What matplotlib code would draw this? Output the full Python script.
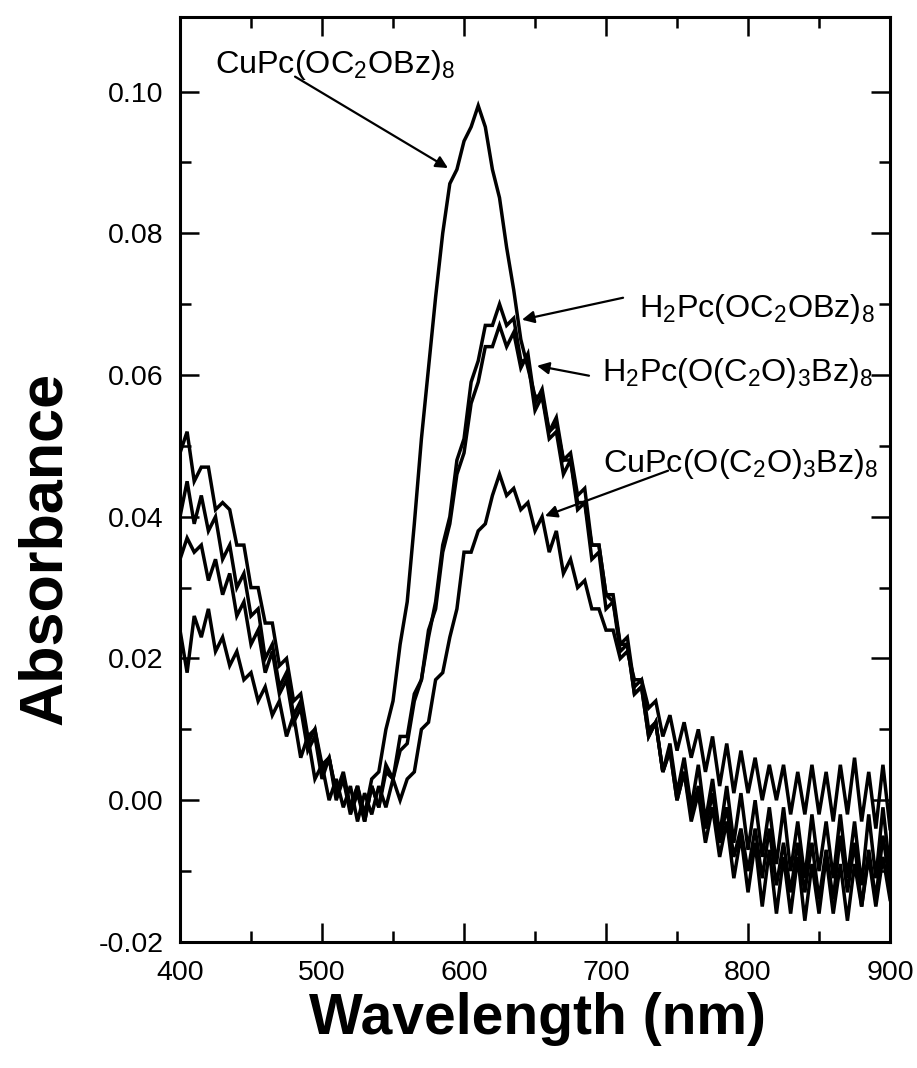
import matplotlib
matplotlib.use("Agg")
import matplotlib.pyplot as plt
from matplotlib import font_manager

# ---------------- data ----------------
wavelength = list(range(400, 901, 5))

cupc_oc2obz = [
    0.049, 0.052, 0.045, 0.047, 0.047, 0.041, 0.042, 0.041, 0.036, 0.036,
    0.030, 0.030, 0.025, 0.025, 0.019, 0.020, 0.014, 0.015, 0.009, 0.010,
    0.005, 0.006, 0.001, 0.003, -0.001, 0.002, -0.002, 0.003, 0.004, 0.010,
    0.014, 0.022, 0.028, 0.039, 0.051, 0.061, 0.071, 0.080, 0.087, 0.089,
    0.093, 0.095, 0.098, 0.095, 0.089, 0.085, 0.078, 0.072, 0.065, 0.061,
    0.057, 0.057, 0.052, 0.053, 0.048, 0.048, 0.042, 0.042, 0.036, 0.036,
    0.029, 0.028, 0.022, 0.022, 0.015, 0.016, 0.009, 0.011, 0.004, 0.007,
    0.000, 0.004, -0.002, 0.002, -0.004, 0.001, -0.006, -0.001, -0.008, -0.004,
    -0.010, -0.004, -0.011, -0.004, -0.012, -0.006, -0.013, -0.006, -0.013, -0.006,
    -0.014, -0.007, -0.014, -0.005, -0.013, -0.006, -0.015, -0.007, -0.014, -0.005,
    -0.012,
]

h2pc_oc2obz = [
    0.040, 0.045, 0.039, 0.043, 0.038, 0.040, 0.034, 0.036, 0.030, 0.032,
    0.026, 0.027, 0.020, 0.022, 0.016, 0.018, 0.012, 0.014, 0.008, 0.010,
    0.004, 0.006, 0.001, 0.004, -0.001, 0.002, -0.003, 0.002, -0.001, 0.004,
    0.003, 0.007, 0.008, 0.014, 0.017, 0.023, 0.028, 0.036, 0.040, 0.048,
    0.051, 0.059, 0.062, 0.067, 0.067, 0.070, 0.067, 0.068, 0.062, 0.062,
    0.055, 0.057, 0.051, 0.052, 0.046, 0.048, 0.041, 0.042, 0.034, 0.035,
    0.027, 0.028, 0.021, 0.022, 0.015, 0.016, 0.009, 0.011, 0.004, 0.008,
    0.001, 0.006, -0.001, 0.005, -0.003, 0.003, -0.005, 0.002, -0.006, 0.001,
    -0.007, 0.000, -0.008, -0.001, -0.009, -0.001, -0.010, -0.003, -0.011, -0.002,
    -0.010, -0.003, -0.011, -0.002, -0.011, -0.003, -0.012, -0.002, -0.011, -0.001,
    -0.010,
]

h2pc_oc2o3bz = [
    0.034, 0.037, 0.035, 0.036, 0.031, 0.034, 0.029, 0.032, 0.026, 0.028,
    0.022, 0.024, 0.018, 0.021, 0.015, 0.017, 0.011, 0.013, 0.007, 0.009,
    0.003, 0.006, 0.000, 0.003, -0.002, 0.001, -0.003, 0.002, -0.001, 0.005,
    0.003, 0.009, 0.009, 0.015, 0.017, 0.024, 0.027, 0.035, 0.039, 0.046,
    0.049, 0.056, 0.059, 0.064, 0.064, 0.067, 0.064, 0.066, 0.061, 0.063,
    0.056, 0.058, 0.052, 0.054, 0.048, 0.049, 0.043, 0.044, 0.036, 0.036,
    0.029, 0.029, 0.022, 0.023, 0.016, 0.017, 0.010, 0.011, 0.004, 0.007,
    0.000, 0.004, -0.003, 0.001, -0.006, -0.001, -0.008, -0.003, -0.011, -0.005,
    -0.013, -0.006, -0.015, -0.007, -0.016, -0.008, -0.016, -0.008, -0.017, -0.009,
    -0.016, -0.008, -0.016, -0.009, -0.017, -0.009, -0.015, -0.008, -0.015, -0.008,
    -0.014,
]

cupc_oc2o3bz = [
    0.024, 0.018, 0.026, 0.023, 0.027, 0.021, 0.023, 0.019, 0.021, 0.017,
    0.018, 0.014, 0.016, 0.012, 0.014, 0.009, 0.012, 0.006, 0.009, 0.003,
    0.005, 0.000, 0.003, -0.001, 0.002, -0.003, 0.001, -0.002, 0.002, -0.001,
    0.003, 0.000, 0.003, 0.004, 0.010, 0.011, 0.017, 0.018, 0.023, 0.027,
    0.035, 0.035, 0.038, 0.039, 0.043, 0.046, 0.043, 0.044, 0.041, 0.042,
    0.038, 0.040, 0.035, 0.038, 0.032, 0.034, 0.030, 0.031, 0.027, 0.027,
    0.024, 0.024, 0.020, 0.021, 0.017, 0.017, 0.013, 0.014, 0.009, 0.012,
    0.007, 0.011, 0.006, 0.010, 0.004, 0.009, 0.002, 0.008, 0.001, 0.007,
    0.001, 0.006, 0.000, 0.005, 0.000, 0.005, -0.002, 0.004, -0.002, 0.005,
    -0.002, 0.004, -0.003, 0.005, -0.002, 0.006, -0.003, 0.004, -0.004, 0.005,
    -0.004,
]

series = [cupc_oc2obz, h2pc_oc2obz, h2pc_oc2o3bz, cupc_oc2o3bz]

x_ticks = [400, 500, 600, 700, 800, 900]
y_ticks = [-0.02, 0.00, 0.02, 0.04, 0.06, 0.08, 0.10]
y_tick_labels = ["-0.02", "0.00", "0.02", "0.04", "0.06", "0.08", "0.10"]

labels = [
    r"CuPc(OC$_2$OBz)$_8$",
    r"H$_2$Pc(OC$_2$OBz)$_8$",
    r"H$_2$Pc(O(C$_2$O)$_3$Bz)$_8$",
    r"CuPc(O(C$_2$O)$_3$Bz)$_8$",
]
# (text position, arrow tail, arrow head) in data coordinates
label_pos = [(424.6, 0.1026), (723.5, 0.0682), (697.0, 0.0592), (697.7, 0.0463)]
arrow_tail = [(481.0, 0.1021), (712.0, 0.0709), (688.0, 0.0599), (743.7, 0.0465)]
arrow_head = [(588.7, 0.0892), (640.8, 0.0678), (651.4, 0.0613), (657.0, 0.0401)]

# ---------------- style ----------------
avail = {f.name for f in font_manager.fontManager.ttflist}
base_font = "Liberation Sans" if "Liberation Sans" in avail else "DejaVu Sans"

plt.rcParams["font.family"] = [base_font, "DejaVu Sans"]
plt.rcParams["mathtext.fontset"] = "custom"
plt.rcParams["mathtext.rm"] = base_font
plt.rcParams["mathtext.it"] = base_font
plt.rcParams["mathtext.bf"] = base_font + ":bold"

fig = plt.figure(figsize=(9.17, 10.68), dpi=100)
ax = fig.add_axes([0.1963, 0.118, 0.7743, 0.866])

for s in series:
    ax.plot(wavelength, s, color="black", lw=2.5, solid_joinstyle="miter")

ax.set_xlim(400, 900)
ax.set_ylim(-0.02, 0.1105)
ax.set_xticks(x_ticks)
ax.set_xticks(list(range(450, 900, 100)), minor=True)
ax.set_yticks(y_ticks)
ax.set_yticklabels(y_tick_labels)
ax.set_yticks([-0.01, 0.01, 0.03, 0.05, 0.07, 0.09], minor=True)

ax.tick_params(which="both", direction="in", top=True, right=True,
               labelsize=20.5, width=1.8, color="black")
ax.tick_params(which="major", length=14)
ax.tick_params(which="minor", length=8)
ax.tick_params(axis="y", which="major", pad=12)
ax.tick_params(axis="x", which="major", pad=13)
for sp in ax.spines.values():
    sp.set_linewidth(2.2)

ax.set_xlabel("Wavelength (nm)", fontsize=41, fontweight="bold")
ax.set_ylabel("Absorbance", fontsize=44, fontweight="bold")
ax.xaxis.set_label_coords(0.503, -0.083)
ax.xaxis.label.set_va("center")
ax.yaxis.set_label_coords(-0.19, 0.426)
ax.yaxis.label.set_va("center")

for i, lab in enumerate(labels):
    ax.text(label_pos[i][0], label_pos[i][1], lab, fontsize=23.3,
            ha="left", va="baseline", color="black")
    ax.annotate("", xy=arrow_head[i], xytext=arrow_tail[i],
                arrowprops=dict(arrowstyle="-|>", color="black", lw=1.6,
                                mutation_scale=18, shrinkA=0, shrinkB=0))

fig.savefig("out.png", dpi=100)
